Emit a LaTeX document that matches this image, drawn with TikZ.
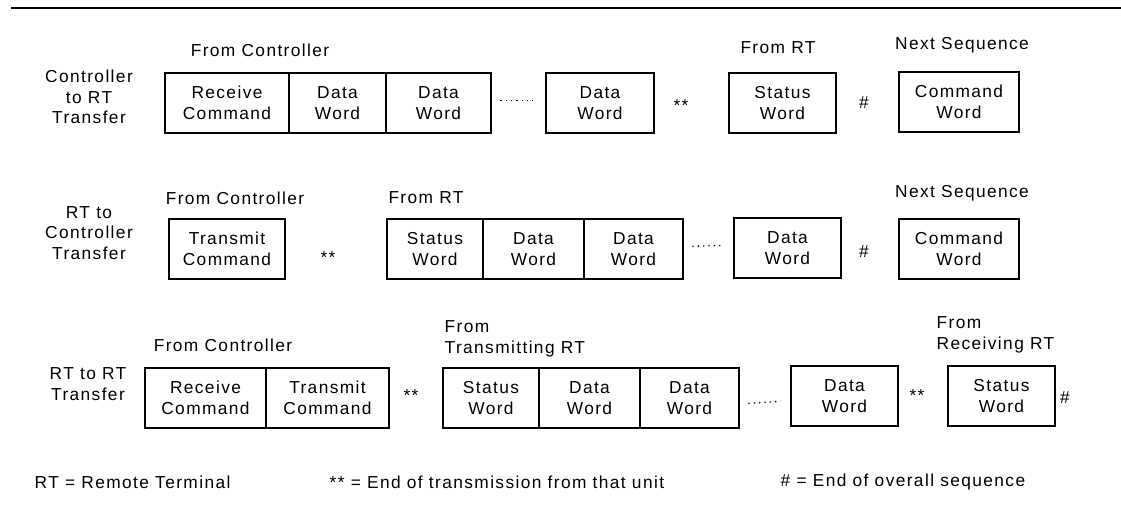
\documentclass[tikz,border=0pt]{standalone}
\usepackage{fontspec}
\setmainfont{Liberation Sans}[LetterSpace=8]
\newcommand{\wordbox}[5]{\node[word, minimum width={(#3-#2)*0.75pt}] (#1) at ({(#2+#3)/2},#4) {#5};}
\begin{document}
\begin{tikzpicture}[x=0.75pt, y=-0.75pt, font=\fontsize{13}{15.5}\selectfont,
    word/.style={draw, line width=2pt, align=center, inner sep=0pt, minimum height=45pt},
    dotline/.style={line width=1pt, dash pattern=on 1pt off 3pt},
    rowlab/.style={align=center}]
  \useasboundingbox (0,0) rectangle (1121,507);
  \draw[line width=1.6pt] (11,8) -- (1121,8);

  % controller to RT
  \node[rowlab] (ctrl) at (89,97) {Controller\\to RT\\Transfer};
  \node (ctrlsrc) at (260,50) {From Controller};
  \node (ctrlrt) at (778,48) {From RT};
  \node (ctrlnext) at (962,45) {Next Sequence};
  \wordbox{ca}{165}{289}{103}{Receive\\Command}
  \wordbox{cb}{289}{386}{103}{Data\\Word}
  \wordbox{cc}{386}{491}{103}{Data\\Word}
  \wordbox{cd}{546}{654}{103}{Data\\Word}
  \wordbox{ce}{729}{836}{103}{Status\\Word}
  \wordbox{cf}{899}{1019}{102}{Command\\Word}
  \draw[dotline] ([xshift=6pt,yshift=2pt]cc.east) -- ([xshift=-9pt,yshift=2pt]cd.west);
  \node (ceot) at (681,106) {**};
  \node (cend) at (864,103) {\#};

  % RT to controller
  \node[rowlab] (rtc) at (89,233) {RT to\\Controller\\Transfer};
  \node (rtcsrc) at (235,198) {From Controller};
  \node (rtcrt) at (426,198) {From RT};
  \node (rtcnext) at (962,193) {Next Sequence};
  \wordbox{ta}{169}{285}{249}{Transmit\\Command}
  \wordbox{tb}{387}{483}{249}{Status\\Word}
  \wordbox{tc}{483}{584}{249}{Data\\Word}
  \wordbox{td}{584}{683}{249}{Data\\Word}
  \wordbox{te}{734}{841}{248}{Data\\Word}
  \wordbox{tf}{899}{1019}{249}{Command\\Word}
  \draw[dotline] ([xshift=6pt,yshift=2pt]td.east) -- ([xshift=-7pt,yshift=2pt]te.west);
  \node (teot) at (328,258) {**};
  \node (tend) at (864,252) {\#};

  % RT to RT
  \node[rowlab] (rtr) at (88,384) {RT to RT\\Transfer};
  \node (rtrsrc) at (223,345) {From Controller};
  \node[align=left, anchor=west] (rtrtx) at (440,339) {From\\Transmitting RT};
  \node[align=left, anchor=west] (rtrrx) at (932,335) {From\\Receiving RT};
  \wordbox{ra}{145}{266}{398}{Receive\\Command}
  \wordbox{rb}{266}{389}{398}{Transmit\\Command}
  \wordbox{rc}{443}{539}{398}{Status\\Word}
  \wordbox{rd}{539}{640}{398}{Data\\Word}
  \wordbox{re}{640}{739}{398}{Data\\Word}
  \wordbox{rf}{791}{898}{396}{Data\\Word}
  \wordbox{rg}{948}{1055}{396}{Status\\Word}
  \draw[dotline] ([xshift=6pt,yshift=-4pt]re.east) -- ([xshift=-7pt,yshift=-4pt]rf.west);
  \node (reot1) at (411,396) {**};
  \node (reot2) at (917,396) {**};
  \node (rend) at (1065,398) {\#};

  % key
  \node[anchor=west] (keyrt) at (30,482) {RT = Remote Terminal};
  \node[anchor=west] (keyeot) at (325,482) {** = End of transmission from that unit};
  \node[anchor=west] (keyend) at (776,482) {\# = End of overall sequence};
\end{tikzpicture}
\end{document}
